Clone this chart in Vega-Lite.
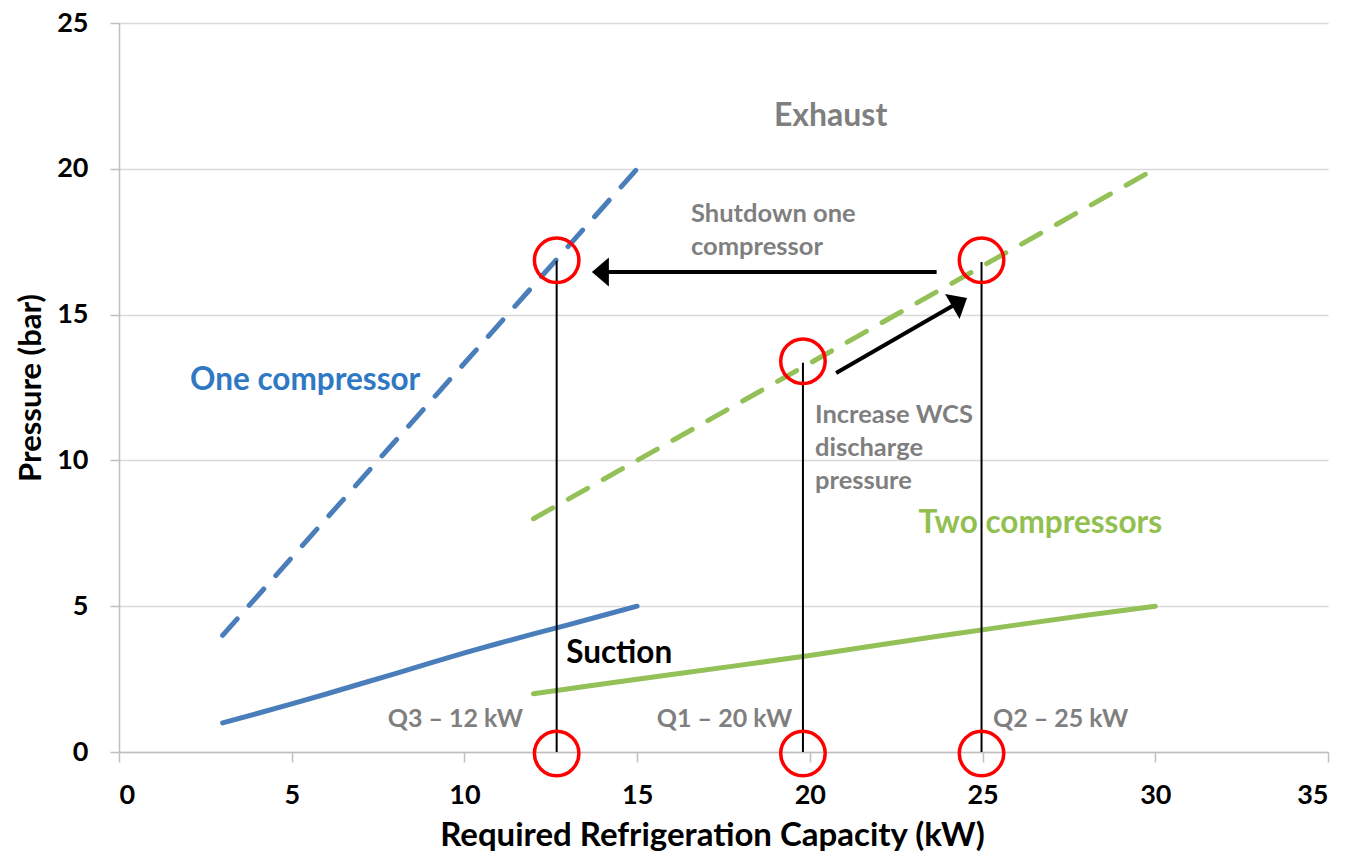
{
  "$schema": "https://vega.github.io/schema/vega-lite/v6.json",
  "width": 1209,
  "height": 729,
  "autosize": {"type": "none"},
  "padding": {"left": 119, "top": 23, "right": 33, "bottom": 110},
  "background": "white",
  "config": {
    "view": {"stroke": null},
    "font": "Lato",
    "axis": {
      "labelFont": "Lato",
      "titleFont": "Lato",
      "labelFontWeight": "bold",
      "titleFontWeight": "bold",
      "labelColor": "#000000",
      "titleColor": "#000000",
      "domainColor": "#BFBFBF",
      "tickColor": "#BFBFBF",
      "gridColor": "#D9D9D9",
      "domainWidth": 1.5,
      "tickWidth": 1.5,
      "gridWidth": 1.5
    }
  },
  "resolve": {"scale": {"color": "independent"}},
  "datasets": {
    "solid": [
      {"group": "one", "x": 3, "y": 1.0},
      {"group": "one", "x": 4, "y": 1.32},
      {"group": "one", "x": 5, "y": 1.65},
      {"group": "one", "x": 6, "y": 1.99},
      {"group": "one", "x": 7, "y": 2.34},
      {"group": "one", "x": 8, "y": 2.69},
      {"group": "one", "x": 9, "y": 3.05},
      {"group": "one", "x": 10, "y": 3.4},
      {"group": "one", "x": 11, "y": 3.73},
      {"group": "one", "x": 12, "y": 4.05},
      {"group": "one", "x": 13, "y": 4.36},
      {"group": "one", "x": 14, "y": 4.68},
      {"group": "one", "x": 15, "y": 5.0},
      {"group": "two", "x": 12, "y": 2.0},
      {"group": "two", "x": 14, "y": 2.33},
      {"group": "two", "x": 16, "y": 2.66},
      {"group": "two", "x": 18, "y": 2.98},
      {"group": "two", "x": 20, "y": 3.31},
      {"group": "two", "x": 22, "y": 3.67},
      {"group": "two", "x": 24, "y": 4.02},
      {"group": "two", "x": 26, "y": 4.36},
      {"group": "two", "x": 28, "y": 4.69},
      {"group": "two", "x": 30, "y": 5.0}
    ],
    "dashed": [
      {"group": "one", "x": 3, "y": 4},
      {"group": "one", "x": 15, "y": 20},
      {"group": "two", "x": 12, "y": 8},
      {"group": "two", "x": 30, "y": 20}
    ],
    "verticals": [
      {"x": 12.67, "y": 0, "y2": 16.85},
      {"x": 19.8, "y": 0, "y2": 13.35},
      {"x": 24.97, "y": 0, "y2": 16.8}
    ],
    "circles": [
      {"x": 12.67, "y": 16.86},
      {"x": 19.8, "y": 13.4},
      {"x": 24.97, "y": 16.86},
      {"x": 12.67, "y": -0.05},
      {"x": 19.8, "y": -0.05},
      {"x": 24.97, "y": -0.05}
    ],
    "arrowLines": [
      {"x": 23.67, "y": 16.46, "x2": 14.0, "y2": 16.46},
      {"x": 20.76, "y": 13.0, "x2": 24.2, "y2": 15.35}
    ],
    "arrowHeads": [
      {"x": 13.69, "y": 16.46, "angle": 0},
      {"x": 24.55, "y": 15.57, "angle": 150}
    ],
    "grayBig": [
      {"x": 20.6, "y": 21.8, "label": "Exhaust"}
    ],
    "grayNotes": [
      {"x": 16.56, "y": 18.46, "label": ["Shutdown one", "compressor"]},
      {"x": 20.15, "y": 11.57, "label": ["Increase WCS", "discharge", "pressure"]}
    ],
    "qRight": [
      {"x": 11.7, "y": 1.14, "label": "Q3 – 12 kW"},
      {"x": 19.49, "y": 1.14, "label": "Q1 – 20 kW"}
    ],
    "qLeft": [
      {"x": 25.3, "y": 1.14, "label": "Q2 – 25 kW"}
    ],
    "seriesLabels": [
      {"x": 5.39, "y": 12.72, "label": "One compressor", "group": "one"},
      {"x": 26.67, "y": 7.82, "label": "Two compressors", "group": "two"},
      {"x": 14.48, "y": 3.36, "label": "Suction", "group": "black"}
    ]
  },
  "layer": [
    {
      "data": {"name": "solid"},
      "mark": {"type": "line", "strokeWidth": 5, "strokeCap": "round"},
      "encoding": {
        "x": {
          "field": "x", "type": "quantitative",
          "scale": {"domain": [0, 35], "nice": false, "zero": false},
          "axis": {
            "title": "Required Refrigeration Capacity (kW)",
            "values": [0, 5, 10, 15, 20, 25, 30, 35],
            "grid": false,
            "tickSize": 10,
            "labelFontSize": 27,
            "labelPadding": 20,
            "titleFontSize": 33,
            "titlePadding": 11,
            "titleX": 593
          }
        },
        "y": {
          "field": "y", "type": "quantitative",
          "scale": {"domain": [0, 25], "nice": false, "zero": false},
          "axis": {
            "title": "Pressure (bar)",
            "values": [0, 5, 10, 15, 20, 25],
            "grid": true,
            "tickSize": 9,
            "labelFontSize": 27,
            "labelPadding": 22,
            "titleFontSize": 31,
            "titlePadding": 9
          }
        },
        "color": {
          "field": "group", "type": "nominal",
          "scale": {"domain": ["one", "two"], "range": ["#4A7EBB", "#94C058"]},
          "legend": null
        }
      }
    },
    {
      "data": {"name": "dashed"},
      "mark": {"type": "line", "strokeWidth": 5, "strokeDash": [22, 18], "strokeCap": "round"},
      "encoding": {
        "x": {"field": "x", "type": "quantitative"},
        "y": {"field": "y", "type": "quantitative"},
        "color": {
          "field": "group", "type": "nominal",
          "scale": {"domain": ["one", "two"], "range": ["#4A7EBB", "#94C058"]},
          "legend": null
        }
      }
    },
    {
      "data": {"name": "grayBig"},
      "mark": {"type": "text", "font": "Lato", "fontWeight": "bold", "fontSize": 32, "color": "#7F7F7F", "align": "center", "baseline": "middle"},
      "encoding": {
        "x": {"field": "x", "type": "quantitative"},
        "y": {"field": "y", "type": "quantitative"},
        "text": {"field": "label"}
      }
    },
    {
      "data": {"name": "grayNotes"},
      "mark": {"type": "text", "font": "Lato", "fontWeight": "bold", "fontSize": 25.5, "color": "#7F7F7F", "align": "left", "baseline": "middle", "lineHeight": 33},
      "encoding": {
        "x": {"field": "x", "type": "quantitative"},
        "y": {"field": "y", "type": "quantitative"},
        "text": {"field": "label"}
      }
    },
    {
      "data": {"name": "qRight"},
      "mark": {"type": "text", "font": "Lato", "fontWeight": "bold", "fontSize": 25, "color": "#7F7F7F", "align": "right", "baseline": "middle"},
      "encoding": {
        "x": {"field": "x", "type": "quantitative"},
        "y": {"field": "y", "type": "quantitative"},
        "text": {"field": "label"}
      }
    },
    {
      "data": {"name": "qLeft"},
      "mark": {"type": "text", "font": "Lato", "fontWeight": "bold", "fontSize": 25, "color": "#7F7F7F", "align": "left", "baseline": "middle"},
      "encoding": {
        "x": {"field": "x", "type": "quantitative"},
        "y": {"field": "y", "type": "quantitative"},
        "text": {"field": "label"}
      }
    },
    {
      "data": {"name": "seriesLabels"},
      "mark": {"type": "text", "font": "Lato", "fontWeight": "bold", "fontSize": 31.5, "align": "center", "baseline": "middle"},
      "encoding": {
        "x": {"field": "x", "type": "quantitative"},
        "y": {"field": "y", "type": "quantitative"},
        "text": {"field": "label"},
        "color": {
          "field": "group", "type": "nominal",
          "scale": {"domain": ["one", "two", "black"], "range": ["#2F78C4", "#92C050", "#000000"]},
          "legend": null
        }
      }
    },
    {
      "data": {"name": "verticals"},
      "mark": {"type": "rule", "color": "#000000", "strokeWidth": 2},
      "encoding": {
        "x": {"field": "x", "type": "quantitative"},
        "y": {"field": "y", "type": "quantitative"},
        "y2": {"field": "y2"}
      }
    },
    {
      "data": {"name": "circles"},
      "mark": {"type": "point", "shape": "circle", "filled": false, "size": 1980, "color": "#FF0000", "strokeWidth": 3.5, "opacity": 1},
      "encoding": {
        "x": {"field": "x", "type": "quantitative"},
        "y": {"field": "y", "type": "quantitative"}
      }
    },
    {
      "data": {"name": "arrowLines"},
      "mark": {"type": "rule", "color": "#000000", "strokeWidth": 4},
      "encoding": {
        "x": {"field": "x", "type": "quantitative"},
        "y": {"field": "y", "type": "quantitative"},
        "x2": {"field": "x2"},
        "y2": {"field": "y2"}
      }
    },
    {
      "data": {"name": "arrowHeads"},
      "mark": {"type": "point", "shape": "M0,0L1.17,-1L1.17,1Z", "filled": true, "size": 841, "color": "#000000", "opacity": 1, "strokeWidth": 0},
      "encoding": {
        "x": {"field": "x", "type": "quantitative"},
        "y": {"field": "y", "type": "quantitative"},
        "angle": {"field": "angle", "type": "quantitative", "scale": null}
      }
    }
  ]
}
